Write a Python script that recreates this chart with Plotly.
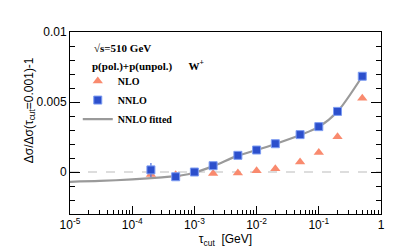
import plotly.graph_objects as go

tau = [2e-4, 5e-4, 1e-3, 2e-3, 5e-3, 1e-2, 2e-2, 5e-2, 1e-1, 2e-1, 5e-1]
nnlo = [0.00015, -0.00034, 0.0, 0.00045, 0.00119, 0.00157, 0.00202, 0.00267, 0.00324, 0.00433, 0.00684]
nnlo_err = [0.0005, 0.0001, 0.0001, 0.0001, 0.00005, 0.00005, 0.00005, 0.00005, 0.00005, 0.00005, 0.00005]
nlo = [-0.00018, -0.0002, -0.00002, -0.00011, -0.00007, 0.00009, 0.00024, 0.00071, 0.00139, 0.00251, 0.00527]

fit_tau = [1e-5, 3e-5, 1e-4, 3e-4, 6e-4, 1e-3, 2e-3, 5e-3, 1e-2, 2e-2, 5e-2, 1e-1, 2e-1, 5e-1]
fit_val = [-0.0007, -0.00064, -0.00053, -0.00038, -0.00025, -0.00005, 0.00042, 0.00117, 0.00157, 0.002, 0.00264, 0.00322, 0.00432, 0.00684]

x_major = [1e-5, 1e-4, 1e-3, 1e-2, 1e-1, 1]
x_major_text = ["10<sup>-5</sup>", "10<sup>-4</sup>", "10<sup>-3</sup>", "10<sup>-2</sup>", "10<sup>-1</sup>", "1"]
x_minor = [m * 10 ** e for e in range(-5, 0) for m in range(2, 10)]
y_major = [0, 0.005, 0.01]
y_major_text = ["0", "0.005", "0.01"]
y_minor = [i * 0.001 for i in range(-3, 11)]

fig = go.Figure()

fig.add_trace(go.Scatter(
    x=[1e-5, 1], y=[0, 0], mode="lines",
    line=dict(color="#bbbbbb", width=1, dash="dash"),
    showlegend=False, hoverinfo="skip"))

fig.add_trace(go.Scatter(
    x=fit_tau, y=fit_val, mode="lines", name="<b>NNLO fitted</b>", legendrank=3,
    line=dict(color="#9a9a9a", width=2.2, shape="spline", smoothing=0.8)))

fig.add_trace(go.Scatter(
    x=tau, y=nlo, mode="markers", name="<b>NLO</b>", legendrank=1,
    marker=dict(symbol="triangle-up", size=9, color="#f98a6e")))

fig.add_trace(go.Scatter(
    x=tau, y=nnlo, mode="markers", name="<b>NNLO</b>", legendrank=2,
    error_y=dict(type="data", array=nnlo_err, color="#4a6fe0", thickness=1.2, width=0),
    marker=dict(symbol="square", size=8, color="#2c4fcc",
                line=dict(color="#7d9cf2", width=1))))

fig.update_layout(
    width=415, height=247,
    margin=dict(l=62, r=42, t=24, b=30),
    paper_bgcolor="white", plot_bgcolor="white",
    showlegend=True,
    legend=dict(x=0.025, y=0.81, xanchor="left", yanchor="top",
                bgcolor="rgba(0,0,0,0)", tracegroupgap=0,
                font=dict(family="Liberation Serif", size=10, color="black"),
                itemwidth=30),
    font=dict(family="Liberation Sans", size=12, color="black"),
)

fig.update_xaxes(
    type="log", range=[-5, 0],
    tickmode="array", tickvals=x_major, ticktext=x_major_text,
    ticks="inside", ticklen=8, tickcolor="black", tickwidth=1,
    minor=dict(tickmode="array", tickvals=x_minor, ticks="inside", ticklen=4, tickcolor="black"),
    showline=True, linecolor="black", linewidth=1, mirror=True,
    showgrid=False, zeroline=False,
    tickfont=dict(family="Liberation Sans", size=12),
    title=dict(text="τ<sub>cut</sub>  [GeV]", standoff=2,
               font=dict(family="Liberation Sans", size=12)),
)

fig.update_yaxes(
    range=[-0.003, 0.01],
    tickmode="array", tickvals=y_major, ticktext=y_major_text,
    ticks="inside", ticklen=10, tickcolor="black", tickwidth=1,
    minor=dict(tickmode="array", tickvals=y_minor, ticks="inside", ticklen=5, tickcolor="black"),
    showline=True, linecolor="black", linewidth=1, mirror="ticks",
    showgrid=False, zeroline=False,
    tickfont=dict(family="Liberation Sans", size=12),
)

fig.add_annotation(xref="paper", yref="paper", x=-(62 - 22) / 311, y=(217 - 107) / 193,
                   xanchor="center", yanchor="middle", showarrow=False, textangle=-90,
                   text="Δσ/Δσ(τ<sub>cut</sub>=0.001)-1",
                   font=dict(family="Liberation Sans", size=12, color="black"))

fig.add_annotation(xref="paper", yref="paper", x=(84 - 62) / 311, y=(217 - 41) / 193,
                   xanchor="left", yanchor="middle", showarrow=False,
                   text="<b>√s=510 GeV</b>",
                   font=dict(family="Liberation Serif", size=11, color="black"))
fig.add_annotation(xref="paper", yref="paper", x=(82 - 62) / 311, y=(217 - 59) / 193,
                   xanchor="left", yanchor="middle", showarrow=False,
                   text="<b>p(pol.)+p(unpol.)      W<sup>+</sup></b>",
                   font=dict(family="Liberation Serif", size=11, color="black"))

fig.write_html("out.html")
